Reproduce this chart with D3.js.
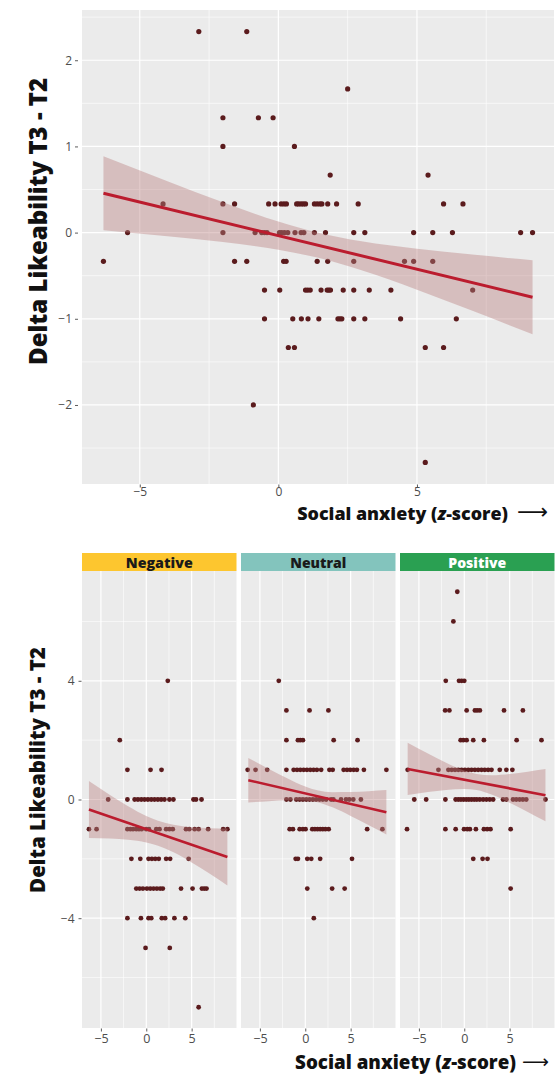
<!DOCTYPE html>
<html><head><meta charset="utf-8">
<script src="https://cdn.jsdelivr.net/npm/d3@7"></script>
<style>body{margin:0;background:#fff}</style>
</head><body><svg id="c" width="558" height="1075"></svg>
<script>
// ---------- DATA ----------
// Top panel (all conditions pooled): y levels and x values at each level
const topLevels = [2.333, 1.667, 1.333, 1, 0.667, 0.333, 0, -0.333, -0.667, -1, -1.333, -2, -2.667];
const topXs = [
  [-2.87, -1.14],
  [2.5],
  [-2.0, -0.72, -0.19],
  [-2.0, 0.58],
  [1.87, 5.4],
  [-4.16, -2.0, -1.58, -0.35, -0.12, 0.1, 0.2, 0.29, 0.66, 0.73, 0.82, 0.9, 0.98, 1.3, 1.4, 1.5, 1.57, 1.78, 2.1, 2.88, 5.96, 6.66],
  [-5.44, -2.0, -0.84, -0.6, -0.5, -0.41, 0.04, 0.12, 0.22, 0.34, 0.6, 0.82, 0.92, 1.3, 1.7, 2.72, 3.12, 4.88, 5.57, 6.28, 8.74, 9.17],
  [-6.31, -1.58, -1.14, 0.19, 0.28, 1.4, 1.78, 2.72, 4.55, 4.88, 5.57],
  [-0.5, 0.05, 0.98, 1.06, 1.15, 1.54, 1.76, 1.82, 1.88, 2.34, 2.72, 3.28, 4.06, 7.01],
  [-0.5, 0.52, 0.83, 1.07, 1.46, 2.15, 2.22, 2.29, 2.72, 3.12, 4.41, 6.42],
  [0.36, 0.58, 5.3, 5.96],
  [-0.9],
  [5.3]
];
const topFitX  = [-6.31, -4, -2, 0, 1.4, 3, 5, 7, 9.17];
const topFitY  = [0.457, 0.277, 0.121, -0.035, -0.144, -0.269, -0.425, -0.581, -0.75];
const topFitLo = [0.027, -0.042, -0.110, -0.199, -0.290, -0.437, -0.662, -0.907, -1.18];
const topFitHi = [0.887, 0.596, 0.352, 0.129, 0.002, -0.101, -0.188, -0.255, -0.32];

// Facets
const facetNames = ["Negative", "Neutral", "Positive"];

const negLevels = [4, 2, 1, 0, -1, -2, -3, -4, -5, -7];
const negXs = [
  [2.37],
  [-2.92],
  [-2.08, 0.47, 1.68],
  [-4.2, -2.08, -1.28, -0.92, -0.55, -0.19, 0.18, 0.55, 0.91, 1.28, 1.64, 2.0, 2.55, 2.99, 5.2, 5.48, 6.09],
  [-6.32, -5.48, -2.08, -1.75, -1.46, -1.1, -0.8, -0.51, 0.0, 0.3, 1.1, 1.46, 2.19, 2.55, 2.92, 4.38, 4.74, 5.33, 5.77, 6.82, 8.47, 8.94],
  [-1.64, -0.66, 0.25, 0.62, 0.99, 1.38, 2.19, 2.63, 4.67],
  [-1.1, -0.73, -0.37, 0.07, 0.44, 0.8, 1.17, 1.53, 1.82, 3.83, 5.1, 6.13, 6.39, 6.64],
  [-2.08, -0.59, 0.25, 0.55, 1.71, 2.08, 3.1, 4.3],
  [-0.08, 2.59],
  [5.77]
];
const negFitX  = [-6.32, -4, -2, 0, 1.3, 3, 5, 7, 8.94];
const negFitY  = [-0.337, -0.581, -0.791, -1.001, -1.137, -1.316, -1.526, -1.736, -1.94];
const negFitLo = [-1.297, -1.313, -1.353, -1.446, -1.557, -1.778, -2.119, -2.506, -2.90];
const negFitHi = [0.623, 0.151, -0.229, -0.556, -0.717, -0.854, -0.933, -0.966, -0.98];

const neuLevels = [4, 3, 2, 1, 0, -1, -2, -3, -4];
const neuXs = [
  [-2.92],
  [-2.08, 0.47, 2.55],
  [-2.08, -0.81, -0.55, -0.26, 3.13, 5.76],
  [-6.35, -5.48, -4.2, -2.08, -1.28, -0.91, -0.55, -0.18, 0.18, 0.55, 0.91, 1.28, 1.75, 2.66, 3.02, 4.23, 4.6, 4.96, 5.33, 5.69, 6.46, 8.94],
  [-2.08, -1.64, -0.99, -0.62, -0.26, 0.11, 0.47, 0.84, 1.2, 1.57, 1.93, 2.3, 2.85, 3.1, 3.94, 4.49, 4.85, 5.29, 6.13],
  [-1.72, -1.36, -0.62, -0.26, 0.03, 0.77, 1.06, 1.35, 1.64, 1.93, 2.22, 2.58, 6.82, 8.5],
  [-1.06, -0.81, 0.22, 0.66, 1.64, 5.15],
  [0.22, 2.96, 4.34],
  [0.94]
];
const neuFitX  = [-6.28, -4, -2, 0, 1.33, 3, 5, 7, 8.94];
const neuFitY  = [0.65, 0.488, 0.346, 0.204, 0.110, -0.009, -0.151, -0.293, -0.43];
const neuFitLo = [-0.10, -0.056, -0.028, -0.033, -0.090, -0.264, -0.553, -0.867, -1.18];
const neuFitHi = [1.40, 1.032, 0.720, 0.441, 0.310, 0.246, 0.251, 0.281, 0.32];

const posLevels = [7, 6, 4, 3, 2, 1, 0, -1, -2, -3];
const posXs = [
  [-0.77],
  [-1.2],
  [-2.04, -0.58, -0.29, 0.0],
  [-2.11, -1.64, 0.26, 1.17, 1.42, 1.72, 4.38, 6.46],
  [-0.4, -0.11, 0.26, 0.99, 2.16, 5.77, 8.51],
  [-6.24, -2.85, -1.75, -1.38, -1.02, -0.66, -0.29, 0.07, 0.44, 0.8, 1.17, 1.53, 1.9, 2.26, 2.63, 3.0, 3.91, 4.64, 5.3],
  [-5.51, -4.2, -2.08, -0.95, -0.66, -0.37, -0.08, 0.22, 0.51, 0.8, 1.09, 1.38, 1.71, 2.08, 2.44, 2.81, 3.18, 4.27, 4.64, 5.37, 5.73, 6.1, 6.46, 6.83, 8.95],
  [-6.31, -2.08, -0.95, -0.03, 0.33, 0.62, 1.28, 2.16, 2.52, 2.89, 5.11],
  [0.99, 2.02, 2.56],
  [5.11]
];
const posFitX  = [-6.24, -4, -2, 0, 1.36, 3, 5, 7, 8.95];
const posFitY  = [1.03, 0.899, 0.782, 0.666, 0.587, 0.491, 0.375, 0.258, 0.145];
const posFitLo = [0.15, 0.25, 0.324, 0.357, 0.317, 0.166, -0.109, -0.42, -0.735];
const posFitHi = [1.91, 1.548, 1.24, 0.975, 0.857, 0.816, 0.859, 0.936, 1.025];

const xTicks = [-5, 0, 5];
const xMinor = [-2.5, 2.5, 7.5];
const topYTicks = [-2, -1, 0, 1, 2];
const topYMinor = [-2.5, -1.5, -0.5, 0.5, 1.5, 2.5];
const botYTicks = [-4, 0, 4];
const botYMinor = [-6, -2, 2, 6];

const yTitle = "Delta Likeability T3 - T2";
const xTitleA = "Social anxiety (";
const xTitleZ = "z";
const xTitleB = "-score)";
const arrowGlyph = "\u27F6";

// ---------- STYLE ----------
const C = {
  panel: "#ebebeb", grid: "#ffffff", point: "#5b1b1d",
  line: "#bb1c2e", ribbon: "rgb(185,128,128)", ribbonOpacity: 0.42,
  tick: "#4d4d4d", title: "#111",
  strips: ["#fdc62f", "#83c4bd", "#2aa052"],
  stripText: ["#1a1a1a", "#1a1a1a", "#ffffff"]
};
const FONT = "'Open Sans', 'Noto Sans', sans-serif";
const fmt = d3.format("d");

const svg = d3.select("#c");

function toPoints(levels, xs) {
  const out = [];
  levels.forEach((lv, i) => xs[i].forEach(x => out.push({x, y: lv})));
  return out;
}
function toFit(fx, fy, lo, hi) {
  return fx.map((x, i) => ({x, y: fy[i], lo: lo[i], hi: hi[i]}));
}

function drawPanel(g, x, y, xMaj, xMin, yMaj, yMin, pts, fit, r, lw) {
  const [x0, x1] = x.range(); const [y0, y1] = y.range();
  g.append("rect").attr("x", x0).attr("y", y1).attr("width", x1 - x0).attr("height", y0 - y1).attr("fill", C.panel);
  const gg = g.append("g");
  yMin.forEach(v => gg.append("line").attr("x1", x0).attr("x2", x1).attr("y1", y(v)).attr("y2", y(v)).attr("stroke", C.grid).attr("stroke-width", 0.6));
  xMin.filter(v => x(v) > x0 && x(v) < x1).forEach(v => gg.append("line").attr("y1", y0).attr("y2", y1).attr("x1", x(v)).attr("x2", x(v)).attr("stroke", C.grid).attr("stroke-width", 0.6));
  yMaj.forEach(v => gg.append("line").attr("x1", x0).attr("x2", x1).attr("y1", y(v)).attr("y2", y(v)).attr("stroke", C.grid).attr("stroke-width", 1.2));
  xMaj.forEach(v => gg.append("line").attr("y1", y0).attr("y2", y1).attr("x1", x(v)).attr("x2", x(v)).attr("stroke", C.grid).attr("stroke-width", 1.2));
  g.append("g").selectAll("circle").data(pts).join("circle")
    .attr("cx", d => x(d.x)).attr("cy", d => y(d.y)).attr("r", r).attr("fill", C.point);
  const area = d3.area().x(d => x(d.x)).y0(d => y(d.lo)).y1(d => y(d.hi)).curve(d3.curveMonotoneX);
  g.append("path").attr("d", area(fit)).attr("fill", C.ribbon).attr("fill-opacity", C.ribbonOpacity);
  const line = d3.line().x(d => x(d.x)).y(d => y(d.y));
  g.append("path").attr("d", line([fit[0], fit[fit.length - 1]])).attr("stroke", C.line).attr("stroke-width", lw).attr("fill", "none");
}

function styleAxis(ax, fs) {
  ax.select(".domain").remove();
  ax.selectAll(".tick line").attr("stroke", "#333").attr("stroke-width", 0.8);
  ax.selectAll(".tick text").attr("fill", C.tick).attr("font-size", fs).attr("font-family", FONT);
}

function fitText(t, target) {
  const L = t.node().getComputedTextLength();
  const fs = parseFloat(t.attr("font-size"));
  t.attr("font-size", fs * target / L);
}

function xTitle(endX, baseY, target, arrowStart, arrowW) {
  const t = svg.append("text").attr("x", endX).attr("y", baseY).attr("text-anchor", "end")
    .attr("font-family", FONT).attr("font-weight", 800).attr("font-size", 18).attr("fill", C.title);
  t.append("tspan").text(xTitleA);
  t.append("tspan").attr("font-style", "italic").text(xTitleZ);
  t.append("tspan").text(xTitleB);
  fitText(t, target);
  const a = svg.append("text").attr("x", arrowStart).attr("y", baseY - 1).attr("text-anchor", "start")
    .attr("font-family", "'DejaVu Sans', sans-serif").attr("font-size", 18).attr("fill", C.title).text(arrowGlyph);
  fitText(a, arrowW);
}

function yTitleAt(cx, cy, target) {
  const t = svg.append("text").attr("transform", `translate(${cx},${cy}) rotate(-90)`)
    .attr("text-anchor", "middle").attr("dominant-baseline", "central")
    .attr("font-family", FONT).attr("font-weight", 800).attr("font-size", 20).attr("fill", C.title).text(yTitle);
  fitText(t, target);
}

// ---------- TOP PANEL ----------
const xTop = d3.scaleLinear().domain([-7.084, 9.944]).range([82, 554]);
const yTop = d3.scaleLinear().domain([-2.917, 2.583]).range([484, 10]);
drawPanel(svg.append("g"), xTop, yTop, xTicks, xMinor, topYTicks, topYMinor,
  toPoints(topLevels, topXs), toFit(topFitX, topFitY, topFitLo, topFitHi), 2.6, 3);
styleAxis(svg.append("g").attr("transform", "translate(78,0)")
  .call(d3.axisLeft(yTop).tickValues(topYTicks).tickFormat(fmt).tickSize(3).tickPadding(3)), 12);
styleAxis(svg.append("g").attr("transform", "translate(0,484.5)")
  .call(d3.axisBottom(xTop).tickValues(xTicks).tickFormat(fmt).tickSize(3).tickPadding(0)), 12);
yTitleAt(37, 221.5, 287);
xTitle(508, 520, 211, 517, 31);

// ---------- FACETS ----------
const yBot = d3.scaleLinear().domain([-7.7, 7.7]).range([1028, 571]);
const facetLeft = [82, 241, 400];
const facetW = 154.5;
const stripW = [67, 56, 58];
const facetData = [
  [toPoints(negLevels, negXs), toFit(negFitX, negFitY, negFitLo, negFitHi)],
  [toPoints(neuLevels, neuXs), toFit(neuFitX, neuFitY, neuFitLo, neuFitHi)],
  [toPoints(posLevels, posXs), toFit(posFitX, posFitY, posFitLo, posFitHi)]
];
facetNames.forEach((name, i) => {
  const xs = d3.scaleLinear().domain([-7.084, 9.944]).range([facetLeft[i], facetLeft[i] + facetW]);
  const g = svg.append("g");
  drawPanel(g, xs, yBot, xTicks, xMinor, botYTicks, botYMinor, facetData[i][0], facetData[i][1], 2.4, 2.6);
  g.append("rect").attr("x", facetLeft[i]).attr("y", 553).attr("width", facetW).attr("height", 18).attr("fill", C.strips[i]);
  const st = g.append("text").attr("x", facetLeft[i] + facetW / 2).attr("y", 567.5).attr("text-anchor", "middle")
    .attr("font-family", FONT).attr("font-weight", 800).attr("font-size", 14.5).attr("fill", C.stripText[i]).text(name);
  fitText(st, stripW[i]);
  styleAxis(svg.append("g").attr("transform", "translate(0,1028.5)")
    .call(d3.axisBottom(xs).tickValues(xTicks).tickFormat(fmt).tickSize(3).tickPadding(3)), 12.5);
});
styleAxis(svg.append("g").attr("transform", "translate(81.5,0)")
  .call(d3.axisLeft(yBot).tickValues(botYTicks).tickFormat(fmt).tickSize(3).tickPadding(4)), 12);
yTitleAt(37, 770, 246);
xTitle(516, 1069, 221, 522, 27);
</script></body></html>
